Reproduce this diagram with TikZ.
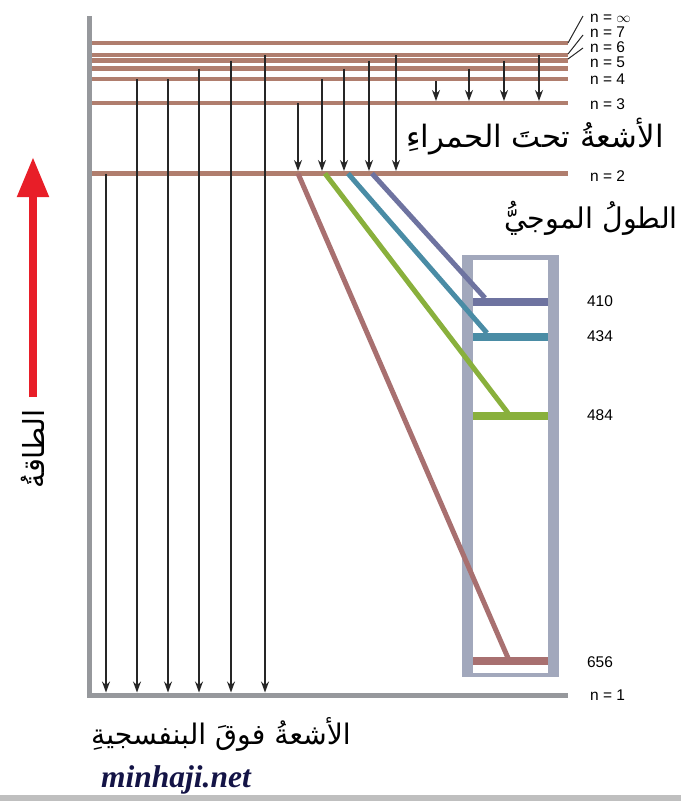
\documentclass[tikz,border=0pt]{standalone}
\usepackage{fontspec}
\setmainfont{Liberation Sans}
\newfontfamily\arabicfont[Script=Arabic]{DejaVu Sans}
\newfontfamily\sitefont{Liberation Serif}
\TeXXeTstate=1
\usetikzlibrary{arrows.meta}
\definecolor{levelc}{RGB}{176,126,110}
\definecolor{axisc}{RGB}{150,152,156}
\definecolor{boxc}{RGB}{162,168,188}
\definecolor{redc}{RGB}{232,30,40}
\definecolor{cred}{RGB}{168,112,112}
\definecolor{cgreen}{RGB}{137,176,60}
\definecolor{cteal}{RGB}{74,140,165}
\definecolor{cblue}{RGB}{110,115,160}
\definecolor{navyc}{RGB}{20,20,70}

\begin{document}
\begin{tikzpicture}[x=1pt,y=-1pt,
  level/.style={levelc,line width=4.5pt},
  trans/.style={black!85,line width=1.1pt,-{Stealth[length=11pt,width=8pt]}},
  lbl/.style={font=\fontsize{15.5}{15.5}\selectfont,anchor=west,inner sep=0pt},
  wave/.style={font=\fontsize{15.5}{15.5}\selectfont,inner sep=0pt},
  arab/.style={font=\arabicfont\fontsize{28.5}{32}\selectfont,inner sep=0pt},
  series/.style={line width=5pt},
  band/.style={line width=8pt}]
  \useasboundingbox (0,0) rectangle (681,801);

  % energy levels
  \foreach \y in {43,55,60.5,68.5,79,103}
    \draw[level] (92,\y) -- (568,\y);
  \draw[level,line width=5pt] (92,173.5) -- (568,173.5);
  \draw[axisc,line width=5pt] (89.5,16) -- (89.5,695) -- (568,695);

  \draw[black!85,line width=1pt] (568,43) -- (583,16);
  \draw[black!85,line width=1pt] (568,54) -- (583,35);
  \draw[black!85,line width=1pt] (568,59) -- (583,48);

  \node[lbl] (ninf) at (590,18) {n = $\infty$};
  \node[lbl] (n7) at (590,32) {n = 7};
  \node[lbl] (n6) at (590,47) {n = 6};
  \node[lbl] (n5) at (590,62) {n = 5};
  \node[lbl] (n4) at (590,79) {n = 4};
  \node[lbl] (n3) at (590,104) {n = 3};
  \node[lbl] (n2) at (590,176) {n = 2};
  \node[lbl] (n1) at (590,695) {n = 1};

  % transitions
  \foreach \x/\y in {106/173.5,137/79,168/79,199/68.5,231/60.5,265/55}
    \draw[trans] (\x,\y) -- (\x,692.5);
  \foreach \x/\y in {298/103,322/79,344/68.5,369/60.5,396/55}
    \draw[trans] (\x,\y) -- (\x,171);
  \foreach \x/\y in {436/81,469/68.5,504/60.5,539/55}
    \draw[trans] (\x,\y) -- (\x,101);

  % spectrum box
  \fill[boxc] (462,255) rectangle (559,677);
  \fill[white] (473,260) rectangle (548,673);
  \draw[series,cred] (298,173.5) -- (508,658);
  \draw[series,cgreen] (325,173.5) -- (508,413);
  \draw[series,cteal] (348,173.5) -- (487,333);
  \draw[series,cblue] (372,173.5) -- (485,298);
  \draw[band,cblue] (473,301.5) -- (548,301.5);
  \draw[band,cteal] (473,336.5) -- (548,336.5);
  \draw[band,cgreen] (473,415.5) -- (548,415.5);
  \draw[band,cred] (473,660.5) -- (548,660.5);

  \node[wave] (w410) at (600,301) {410};
  \node[wave] (w434) at (600,336) {434};
  \node[wave] (w484) at (600,415) {484};
  \node[wave] (w656) at (600,662) {656};

  % energy arrow
  \draw[redc,line width=8pt,-{Triangle[length=40pt,width=30pt]}] (33,397) -- (33,157);

  \node[arab,font=\arabicfont\fontsize{30.8}{34}\selectfont] (ir) at (535,137) {\beginR الأشعةُ تحتَ الحمراءِ\endR};
  \node[arab] (wl) at (591,218) {\beginR الطولُ الموجيُّ\endR};
  \node[arab,font=\arabicfont\fontsize{28.3}{32}\selectfont] (uv) at (221,734) {\beginR الأشعةُ فوقَ البنفسجيةِ\endR};
  \node[arab,font=\arabicfont\fontsize{29}{32}\selectfont,rotate=90] (en) at (33,449) {\beginR الطاقةُ\endR};

  \node[font=\sitefont\fontsize{31.5}{31.5}\selectfont\bfseries\itshape,text=navyc] (site) at (176,780) {minhaji.net};
  \fill[black!25] (0,795) rectangle (681,801);
\end{tikzpicture}
\end{document}
